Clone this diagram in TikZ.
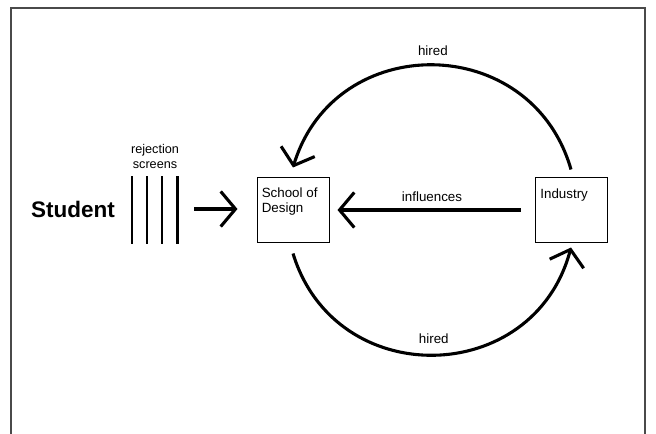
\documentclass[tikz,border=0pt]{standalone}
\usepackage{fontspec}
\setmainfont{Liberation Sans}
\usetikzlibrary{arrows.meta, positioning}
\definecolor{ink}{HTML}{000000}
\definecolor{framegray}{HTML}{4A4A4A}

\begin{document}
\begin{tikzpicture}[x=0.025cm, y=0.025cm,
  >={Straight Barb[length=10.5pt, width=25pt]},
  box/.style={draw=ink, line width=0.7pt, minimum width=1.8cm, minimum height=1.6cm, inner sep=0},
  boxtext/.style={anchor=north west, inner sep=0, align=left, font=\fontsize{9.5}{10.5}\selectfont},
  flow/.style={ink, line width=2.2pt, ->},
  lbl/.style={inner sep=0, font=\fontsize{9.5}{11}\selectfont}]

% Canvas -- frame runs off the bottom edge
\clip (0,0) rectangle (656,433);
\draw[framegray, line width=0.9pt] (11,-10) rectangle (645,425);

% Boxes
\node[box] (school) at (293,223) {};
\node[box] (industry) at (571,223) {};
\node[boxtext] (schooltxt) at ([xshift=0.125cm, yshift=-0.25cm]school.north west) {School of\\Design};
\node[boxtext] (industrytxt) at ([xshift=0.14cm, yshift=-0.27cm]industry.north west) {Industry};

% Student and the rejection screens
\node[font=\fontsize{16}{18}\selectfont\bfseries] (student) at (73,223.5) {Student};
\foreach \sx in {132,147,162,177.5}
  \draw[ink, line width=1.6pt] (\sx,189) -- (\sx,257);
\node[lbl, align=center, font=\fontsize{9}{10.7}\selectfont] (screens) at (155,276.5) {rejection\\screens};

% Entry arrow
\coordinate (gate) at (194,224);
\draw[flow, shorten >=0.475cm] (gate) -- (gate -| school.west);

% Influences
\draw[flow, shorten <=0.35cm, shorten >=0.2cm] (industry.west) -- (school.east)
  node[lbl, midway, above=5.2pt] {influences};

% Hiring loops
\draw[flow] ([yshift=0.2cm]industry.north) to[out=106, in=73, looseness=1.32]
  node[lbl, midway, above=5.5pt] {hired} ([yshift=0.25cm]school.north);
\draw[flow] ([yshift=-0.275cm]school.south) to[out=-73, in=-105, looseness=1.33]
  node[lbl, midway, above=7pt] {hired} ([yshift=-0.125cm]industry.south);

\end{tikzpicture}
\end{document}
